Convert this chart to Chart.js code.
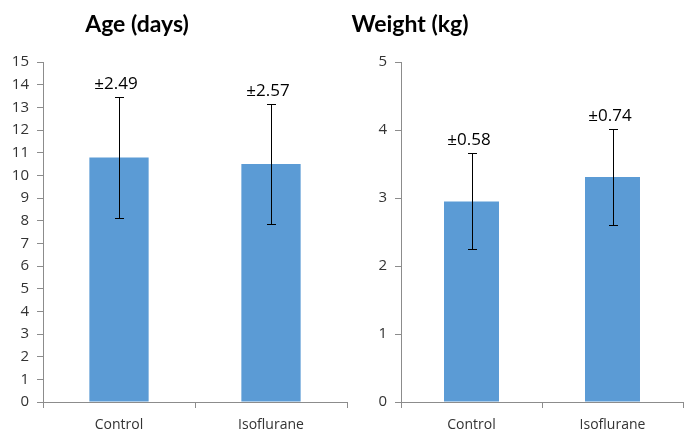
<!DOCTYPE html>
<html lang="en">
<head>
  <meta charset="UTF-8">
  <title>Age and Weight</title>
  <style>
    body {
      margin: 0;
      padding: 0;
      background-color: #ffffff;
      width: 687px;
      height: 435px;
      position: relative;
      overflow: hidden;
    }
    .panel {
      position: absolute;
      top: 0;
      height: 435px;
    }
    #age-wrap { left: 0; width: 350px; }
    #weight-wrap { left: 350px; width: 337px; }
  </style>
  <script src="https://cdn.jsdelivr.net/npm/chart.js"></script>
</head>
<body>
  <div class="panel" id="age-wrap"><canvas id="ageChart"></canvas></div>
  <div class="panel" id="weight-wrap"><canvas id="weightChart"></canvas></div>
  <script>
    // categories shared by both panels
    const groups = ['Control', 'Isoflurane'];

    // Age (days)
    const ageMeans = [10.79, 10.50];
    const ageErrLow = [8.10, 7.84];
    const ageErrHigh = [13.47, 13.15];
    const ageSdLabels = ['±2.49', '±2.57'];

    // Weight (kg)
    const weightMeans = [2.95, 3.31];
    const weightErrLow = [2.245, 2.61];
    const weightErrHigh = [3.66, 4.02];
    const weightSdLabels = ['±0.58', '±0.74'];

    const barColor = '#5b9bd5';
    const axisColor = '#8c8c8c';
    const textColor = '#333333';

    // draws the error bars, the ± labels and the panel title
    const errorBarPlugin = {
      id: 'errorBars',
      afterDatasetsDraw(chart, args, opts) {
        const ctx = chart.ctx;
        const yScale = chart.scales.y;
        const meta = chart.getDatasetMeta(0);
        ctx.save();
        meta.data.forEach((bar, i) => {
          const x = Math.round(bar.x);
          const yTop = Math.round(yScale.getPixelForValue(opts.high[i]));
          const yBot = Math.round(yScale.getPixelForValue(opts.low[i]));
          ctx.strokeStyle = '#000000';
          ctx.lineWidth = 1;
          ctx.beginPath();
          ctx.moveTo(x + 0.5, yTop);
          ctx.lineTo(x + 0.5, yBot);
          ctx.moveTo(x - 4, yTop + 0.5);
          ctx.lineTo(x + 5, yTop + 0.5);
          ctx.moveTo(x - 4, yBot + 0.5);
          ctx.lineTo(x + 5, yBot + 0.5);
          ctx.stroke();

          ctx.fillStyle = '#000000';
          ctx.font = '17px "Open Sans", sans-serif';
          ctx.textAlign = 'center';
          ctx.textBaseline = 'alphabetic';
          ctx.fillText(opts.labels[i], x - 3, yTop - 8);
        });

        ctx.font = 'bold 23px Lato, sans-serif';
        ctx.fillStyle = '#000000';
        ctx.textAlign = 'center';
        ctx.textBaseline = 'middle';
        ctx.fillText(opts.title, opts.titleX, 25);
        ctx.restore();
      }
    };

    function makeChart(id, means, low, high, labels, title, yMax, yAxisWidth, padRight, titleX) {
      const ctx = document.getElementById(id).getContext('2d');
      return new Chart(ctx, {
        type: 'bar',
        data: {
          labels: groups,
          datasets: [{
            data: means,
            backgroundColor: barColor,
            borderWidth: 0,
            categoryPercentage: 0.39,
            barPercentage: 1.0,
          }],
        },
        options: {
          responsive: true,
          maintainAspectRatio: false,
          animation: false,
          layout: { padding: { top: 62, right: padRight, bottom: 0, left: 0 } },
          plugins: {
            legend: { display: false },
            tooltip: { enabled: false },
            title: { display: false },
            errorBars: { low: low, high: high, labels: labels, title: title, titleX: titleX },
          },
          scales: {
            x: {
              grid: {
                display: true,
                drawOnChartArea: false,
                offset: true,
                tickLength: 6,
                color: axisColor,
              },
              border: { color: axisColor },
              ticks: {
                padding: 9,
                color: textColor,
                font: { family: '"Open Sans", sans-serif', size: 14 },
              },
              afterFit(scale) { scale.height = 33; },
            },
            y: {
              min: 0,
              max: yMax,
              grid: {
                drawOnChartArea: false,
                tickLength: 6,
                color: axisColor,
              },
              border: { color: axisColor },
              ticks: {
                stepSize: 1,
                padding: 8,
                color: textColor,
                font: { family: '"Open Sans", sans-serif', size: 15 },
              },
              afterFit(scale) { scale.width = yAxisWidth; },
            },
          },
        },
        plugins: [errorBarPlugin],
      });
    }

    makeChart('ageChart', ageMeans, ageErrLow, ageErrHigh, ageSdLabels, 'Age (days)', 15, 43, 3, 137);
    makeChart('weightChart', weightMeans, weightErrLow, weightErrHigh, weightSdLabels, 'Weight (kg)', 5, 51, 4, 60);
  </script>
</body>
</html>
